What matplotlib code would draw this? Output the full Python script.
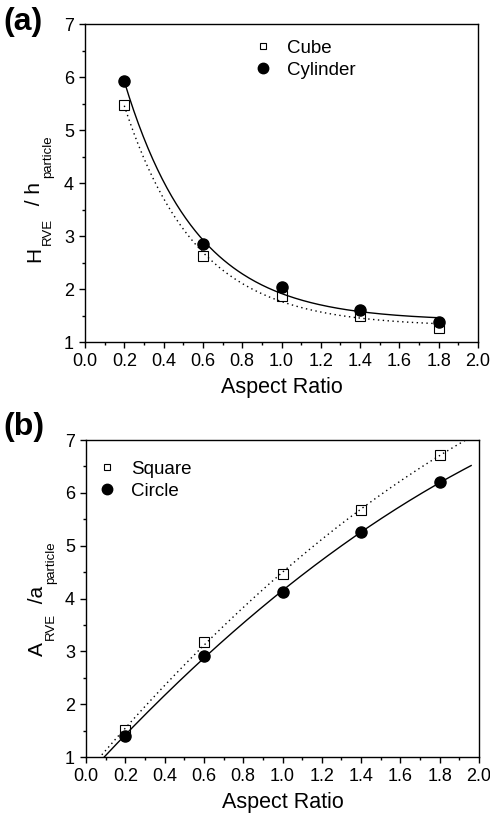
import matplotlib
matplotlib.use('agg')
import matplotlib.pyplot as plt
import numpy as np
from matplotlib.lines import Line2D
from matplotlib.ticker import MultipleLocator, FormatStrFormatter

plt.rcParams['font.family'] = ['Liberation Sans', 'DejaVu Sans']

# values
aspect = [0.2, 0.6, 1.0, 1.4, 1.8]
cube = [5.47, 2.62, 1.87, 1.49, 1.26]
cylinder = [5.93, 2.85, 2.03, 1.61, 1.37]
square = [1.52, 3.18, 4.46, 5.68, 6.72]
circle = [1.40, 2.92, 4.12, 5.25, 6.20]

W, H = 490, 816


def exp_fit(x, y):
    # y = y0 + A*exp(-x/t): scan t, solve y0 and A by least squares
    x = np.asarray(x)
    y = np.asarray(y)
    best = None
    for t in np.linspace(0.05, 3.0, 3000):
        M = np.column_stack([np.ones_like(x), np.exp(-x / t)])
        coef = np.linalg.lstsq(M, y, rcond=None)[0]
        err = np.sum((M @ coef - y) ** 2)
        if best is None or err < best[0]:
            best = (err, t, coef)
    _, t, (y0, a) = best
    return lambda xx: y0 + a * np.exp(-xx / t)


def style_axes(ax):
    ax.set_xlim(0, 2.0)
    ax.set_ylim(1, 7)
    ax.xaxis.set_major_locator(MultipleLocator(0.2))
    ax.xaxis.set_minor_locator(MultipleLocator(0.1))
    ax.yaxis.set_major_locator(MultipleLocator(1))
    ax.yaxis.set_minor_locator(MultipleLocator(0.5))
    ax.xaxis.set_major_formatter(FormatStrFormatter('%.1f'))
    ax.yaxis.set_major_formatter(FormatStrFormatter('%d'))
    ax.tick_params(which='both', direction='out', top=False, right=False, width=1.0)
    ax.tick_params(which='major', length=4.5, pad=3.5, labelsize=13)
    ax.tick_params(which='minor', length=2.5)
    for s in ax.spines.values():
        s.set_linewidth(1.0)
    ax.set_xlabel('Aspect Ratio', fontsize=15.5, labelpad=5)


def ylabel_parts(ax, x_px, y_px, main, sub1, mid, sub2, gap1, gap2):
    # Origin-style label with subscripts dropped below the baseline
    t1 = ax.figure.text(x_px / W, y_px / H, main, rotation=90, ha='right', va='bottom', fontsize=15)
    t2 = ax.annotate(sub1, xy=(1, 1), xycoords=t1, xytext=(-1.5, 1.5), textcoords='offset points',
                     rotation=90, ha='left', va='bottom', fontsize=9.5)
    t3 = ax.annotate(mid, xy=(1, 1), xycoords=(t1, t2), xytext=(0, gap1), textcoords='offset points',
                     rotation=90, ha='right', va='bottom', fontsize=15)
    ax.annotate(sub2, xy=(1, 1), xycoords=t3, xytext=(-1.5, gap2), textcoords='offset points',
                rotation=90, ha='left', va='bottom', fontsize=9.5)


def legend(ax, labels, anchor):
    handles = [Line2D([], [], ls='none', marker='s', ms=5, mfc='none', mec='black', mew=0.8),
               Line2D([], [], ls='none', marker='o', ms=7.5, color='black')]
    ax.legend(handles, labels, loc='upper left', bbox_to_anchor=anchor, frameon=False,
              fontsize=13.5, handlelength=1.0, handletextpad=0.8, labelspacing=0.25,
              borderpad=0, borderaxespad=0)


fig = plt.figure(figsize=(W / 100, H / 100), dpi=100)

# (a)
ax1 = fig.add_axes([85 / W, 1 - 342 / H, 393 / W, 318 / H])
xa = np.linspace(0.2, 1.8, 200)
ax1.plot(xa, exp_fit(aspect, cylinder)(xa), color='black', lw=1.0)
ax1.plot(xa, exp_fit(aspect, cube)(xa), color='black', lw=1.0, ls=(0, (1, 2.5)))
ax1.plot(aspect, cube, ls='none', marker='s', ms=6.5, mfc='none', mec='black', mew=0.8)
ax1.plot(aspect, cylinder, ls='none', marker='o', ms=8, color='black')
style_axes(ax1)
legend(ax1, ['Cube', 'Cylinder'], (0.429, 0.95))
ylabel_parts(ax1, 44, H - 262, 'H', 'RVE', ' / h', 'particle', 5, 3)
fig.text(3 / W, 1 - 22 / H, '(a)', fontsize=23, fontweight='bold', ha='left', va='center')

# (b)
ax2 = fig.add_axes([86 / W, 1 - 757 / H, 393 / W, 317 / H])
xb = np.linspace(0.0, 1.96, 200)
ax2.plot(xb, np.polyval(np.polyfit(aspect, circle, 2), xb), color='black', lw=1.0)
ax2.plot(xb, np.polyval(np.polyfit(aspect, square, 2), xb), color='black', lw=1.0, ls=(0, (1, 2.5)))
ax2.plot(aspect, square, ls='none', marker='s', ms=6.5, mfc='none', mec='black', mew=0.8)
ax2.plot(aspect, circle, ls='none', marker='o', ms=8, color='black')
style_axes(ax2)
legend(ax2, ['Square', 'Circle'], (0.0295, 0.935))
ylabel_parts(ax2, 47, H - 656, 'A', 'RVE', ' /a', 'particle', 3, 1)
fig.text(3 / W, 1 - 427 / H, '(b)', fontsize=23, fontweight='bold', ha='left', va='center')

fig.savefig('out.png', dpi=100)
